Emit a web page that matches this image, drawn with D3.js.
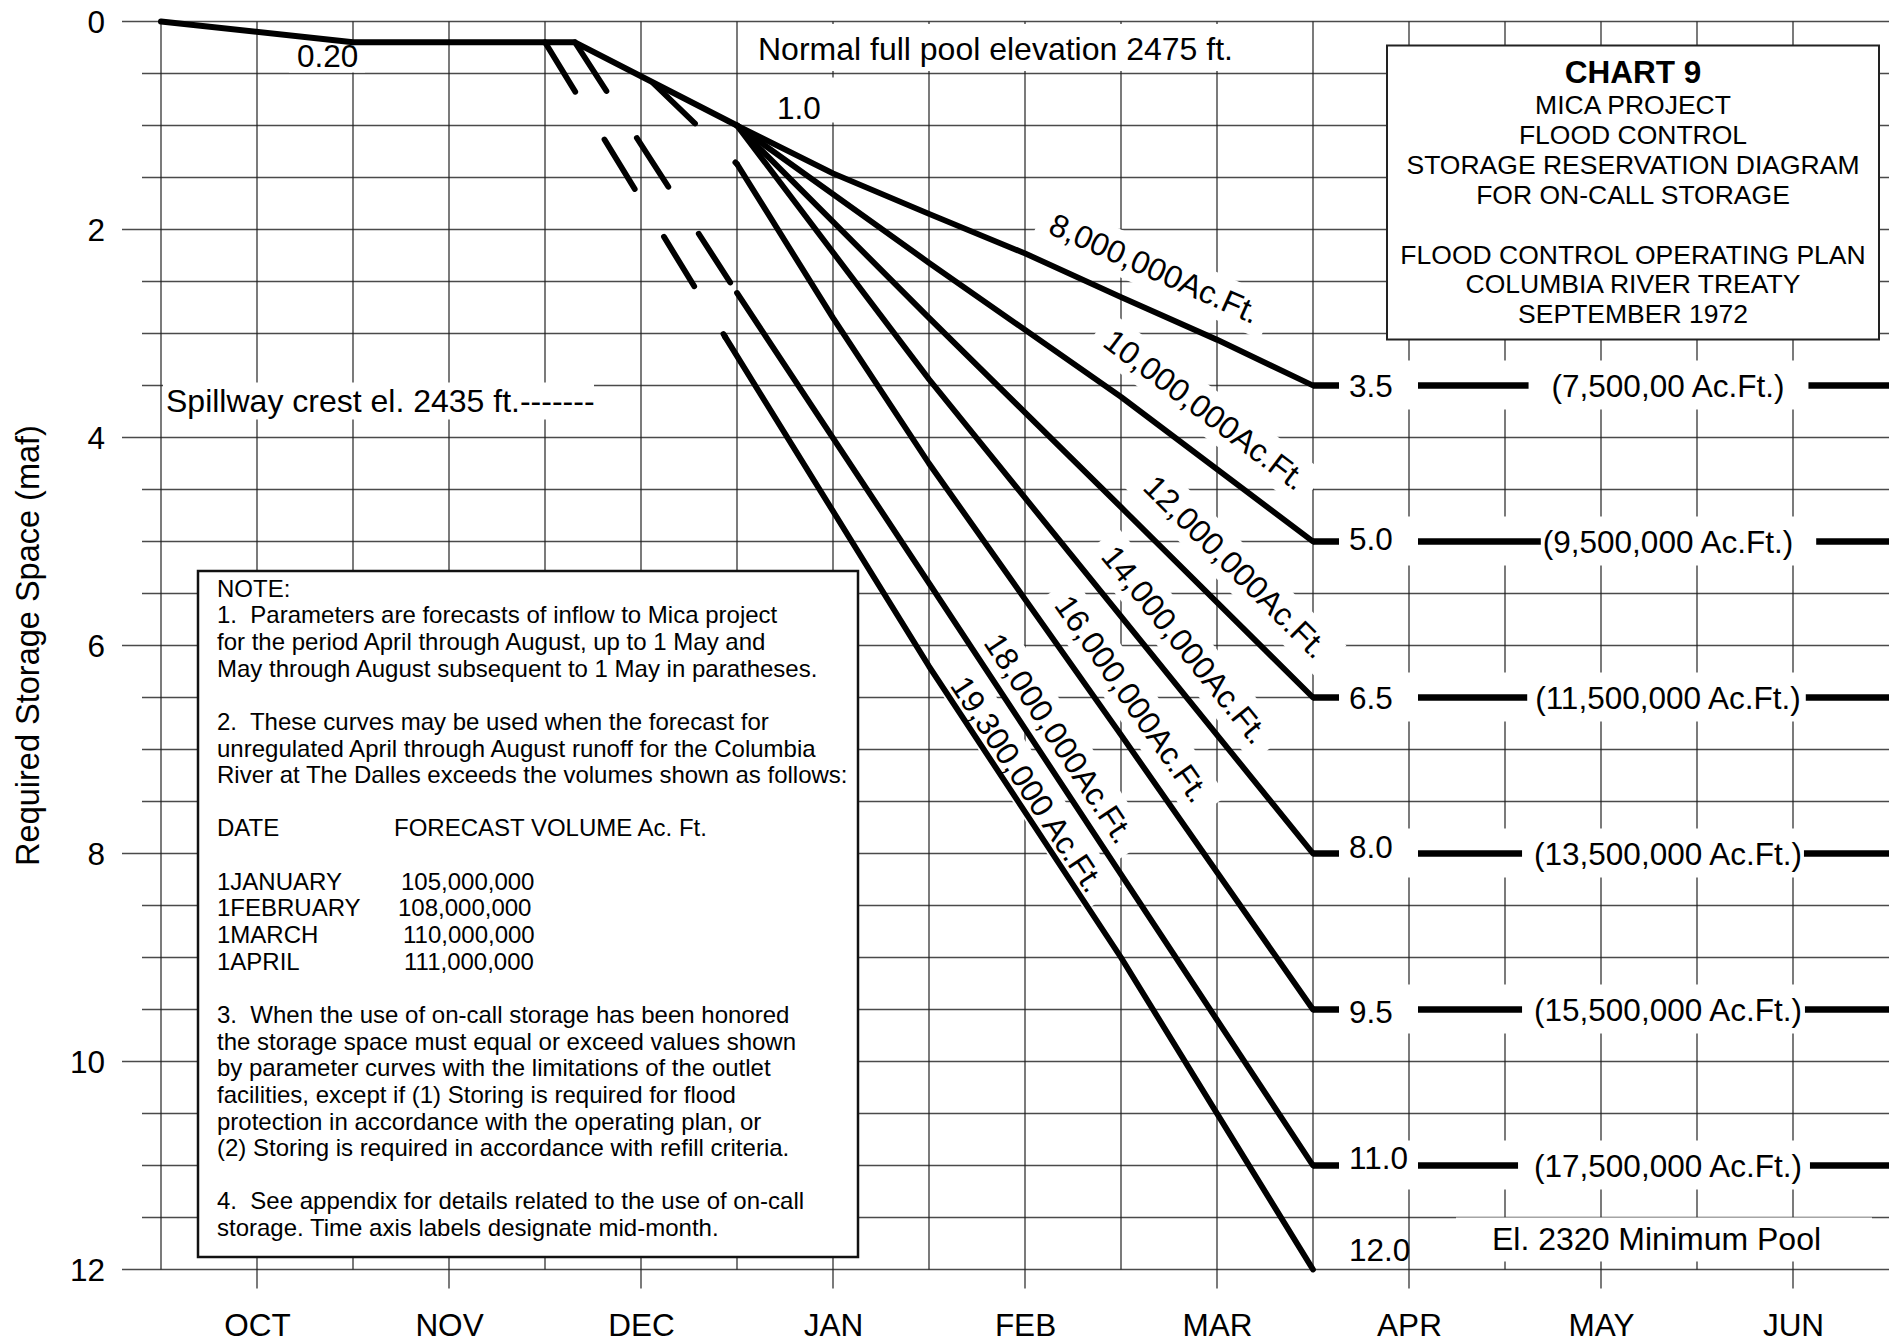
<!DOCTYPE html>
<html><head><meta charset="utf-8">
<script src="https://cdn.jsdelivr.net/npm/d3@7"></script>
<style>
html,body{margin:0;padding:0;background:#fff;}
svg{display:block;font-family:"Liberation Sans",Arial,Helvetica,sans-serif;}
text{white-space:pre;}
</style></head><body>
<svg id="chart" width="1889" height="1343"></svg>
<script>
// ---------------- data ----------------
// x = months after 1 October, y = required storage space (maf)
const months = ["OCT","NOV","DEC","JAN","FEB","MAR","APR","MAY","JUN"];
const yTicks = [0,2,4,6,8,10,12];
const poolLine = [[0,0],[1,0.2],[2.156,0.2],[3,1.0]];
const curve8   = [[3,1.0],[3.5,1.46],[4,1.85],[4.5,2.23],[5,2.65],[5.5,3.06],[6,3.5]];
const curve10  = [[3,1.0],[4,2.32],[5,3.61],[6,5.0]];
const curve12  = [[3,1.0],[4,2.85],[5,4.67],[6,6.5]];
const curve14  = [[3,1.0],[4,3.44],[5,5.72],[6,8.0]];
const curve16  = [[3,1.37],[3.5,2.85],[4,4.25],[5,6.86],[6,9.5]];
const curve18  = [[3,2.61],[4,5.4],[5,8.2],[6,11.0]];
const curve193 = [[2.9375,3.03],[4,6.2],[5,9.0],[6,12.0]];
const dash16   = [[2.564,0.594],[3,1.37]];
const dash18   = [[2.156,0.2],[3,2.61]];
const dash193  = [[2,0.2],[2.9375,3.03]];
const curveNames = ["8,000,000Ac.Ft.","10,000,000Ac.Ft.","12,000,000Ac.Ft.","14,000,000Ac.Ft.","16,000,000Ac.Ft.","18,000,000Ac.Ft.","19,300,000 Ac.Ft."];
const endLevels = [3.5,5.0,6.5,8.0,9.5,11.0,12.0];
const endLevelText = ["3.5","5.0","6.5","8.0","9.5","11.0","12.0"];
const mayVolumes = ["(7,500,00 Ac.Ft.)","(9,500,000 Ac.Ft.)","(11,500,000 Ac.Ft.)","(13,500,000 Ac.Ft.)","(15,500,000 Ac.Ft.)","(17,500,000 Ac.Ft.)"];
const titleLines = ["MICA PROJECT","FLOOD CONTROL","STORAGE RESERVATION DIAGRAM","FOR ON-CALL STORAGE","","FLOOD CONTROL OPERATING PLAN","COLUMBIA RIVER TREATY","SEPTEMBER 1972"];
const noteLines = [
 "NOTE:",
 "1.  Parameters are forecasts of inflow to Mica project",
 "for the period April through August, up to 1 May and",
 "May through August subsequent to 1 May in paratheses.",
 "",
 "2.  These curves may be used when the forecast for",
 "unregulated April through August runoff for the Columbia",
 "River at The Dalles exceeds the volumes shown as follows:",
 "",
 "DATE",
 "",
 "1JANUARY","1FEBRUARY","1MARCH","1APRIL",
 "",
 "3.  When the use of on-call storage has been honored",
 "the storage space must equal or exceed values shown",
 "by parameter curves with the limitations of the outlet",
 "facilities, except if (1) Storing is required for flood",
 "protection in accordance with the operating plan, or",
 "(2) Storing is required in accordance with refill criteria.",
 "",
 "4.  See appendix for details related to the use of on-call",
 "storage. Time axis labels designate mid-month."
];
const forecastHeader = "FORECAST VOLUME Ac. Ft.";
const forecastVolumes = ["105,000,000","108,000,000","110,000,000","111,000,000"];

// ---------------- layout ----------------
const W = 1889, H = 1343;
const svg = d3.select("#chart");
const x = d3.scaleLinear().domain([0,9]).range([161,1889]);
const y = d3.scaleLinear().domain([0,12]).range([21.5,1269.5]);
const FS = 32;

// grid
const gGrid = svg.append("g");
const hVals = d3.range(0,12.001,0.5);
gGrid.selectAll("line.h").data(hVals).join("line")
  .attr("x1", d => (d % 2 === 0) ? 122 : 142).attr("x2", W)
  .attr("y1", d => y(d)).attr("y2", d => y(d))
  .attr("stroke", "#4a4a4a").attr("stroke-width", 1.5);
const vVals = d3.range(0,8.501,0.5);
gGrid.selectAll("line.v").data(vVals).join("line")
  .attr("x1", d => x(d)).attr("x2", d => x(d))
  .attr("y1", y(0)).attr("y2", d => (d % 1 === 0.5) ? y(12) + 19 : y(12))
  .attr("stroke", "#222").attr("stroke-width", 1.2);

// axes labels
const yAxis = d3.axisLeft(y).tickValues(yTicks).tickSize(0).tickPadding(56);
const gy = svg.append("g").attr("transform", `translate(${x(0)},0)`).call(yAxis);
gy.select(".domain").remove();
gy.selectAll("text").attr("font-size", 31.5).attr("font-family","Liberation Sans, Arial").attr("fill","#000").attr("dy","0.36em");

const xAxis = d3.axisBottom(x).tickValues(months.map((m,i)=>i+0.5)).tickFormat((d,i)=>months[i]).tickSize(0).tickPadding(44);
const gx = svg.append("g").attr("transform", `translate(0,${y(12)})`).call(xAxis);
gx.select(".domain").remove();
gx.selectAll("text").attr("font-size", 31.5).attr("font-family","Liberation Sans, Arial").attr("fill","#000");

svg.append("text").attr("transform", `translate(27,${(y(0)+y(12))/2}) rotate(-90)`)
  .attr("text-anchor","middle").attr("dy","0.36em").attr("font-size",32.5)
  .text("Required Storage Space (maf)");

// white label boxes (break the grid)
function wbox(x0,y0,x1,y1){ svg.append("rect").attr("x",x0).attr("y",y0).attr("width",x1-x0).attr("height",y1-y0).attr("fill","#fff"); }
wbox(745, 24, 1300, 71);              // normal full pool
wbox(x(1)-64, y(0.2)+3, x(1)+12, y(0.5)-1); // 0.20
wbox(x(3)+33, y(0.5)+4, x(3.55), y(1)-3);   // 1.0
wbox(x(0)+2, y(3.5)-3, 594, y(3.5)+34);    // spillway

// right-hand rows: white band
endLevels.slice(0,6).forEach(v => wbox(x(6)+26, y(v)-25, 1812, y(v)+24));
wbox(1456, y(11.5), 1872, y(12)-8);

// title box
svg.append("rect").attr("x",1387).attr("y",45.5).attr("width",492).attr("height",294)
  .attr("fill","#fff").attr("stroke","#222").attr("stroke-width",2);
const tcx = 1387 + 246;
svg.append("text").attr("x",tcx).attr("y",82.7).attr("text-anchor","middle")
  .attr("font-size",31.5).attr("font-weight","bold").text("CHART 9");
titleLines.forEach((t,i) => {
  if (!t) return;
  svg.append("text").attr("x",tcx).attr("y",114 + i*29.9).attr("text-anchor","middle")
    .attr("font-size",26.5).text(t);
});

// note box
svg.append("rect").attr("x",198).attr("y",571).attr("width",660).attr("height",686)
  .attr("fill","#fff").attr("stroke","#111").attr("stroke-width",2.5);
noteLines.forEach((t,i) => {
  if (!t) return;
  svg.append("text").attr("x",217).attr("y",596.7 + i*26.64).attr("font-size",24).text(t);
});
svg.append("text").attr("x",394).attr("y",596.7 + 9*26.64).attr("font-size",24).text(forecastHeader);
const volX = [401,398,403,404];
forecastVolumes.forEach((t,i) => {
  svg.append("text").attr("x",volX[i]).attr("y",596.7 + (11+i)*26.64).attr("font-size",24).text(t);
});

// rotated curve labels: centres (month, maf)
const labelPos = [[5.175,2.37],[5.44,3.73],[5.60,5.24],[5.335,5.99],[5.06,6.51],[4.68,6.89],[4.515,7.33]];
const curves = [curve8,curve10,curve12,curve14,curve16,curve18,curve193];
function angleAt(c, m){
  let k = 0;
  for (let i=0;i<c.length-1;i++){ if (m >= c[i][0]) k = i; }
  const a = c[k], b = c[k+1];
  return Math.atan2(y(b[1])-y(a[1]), x(b[0])-x(a[0])) * 180/Math.PI;
}
curveNames.forEach((name,i) => {
  const g = svg.append("g")
    .attr("transform", `translate(${x(labelPos[i][0])},${y(labelPos[i][1])}) rotate(${angleAt(curves[i], labelPos[i][0])})`);
  const r = g.append("rect").attr("fill","#fff");
  const t = g.append("text").attr("text-anchor","middle").attr("dy","0.36em").attr("font-size",FS).text(name);
  const bb = t.node().getBBox();
  r.attr("x", bb.x-12).attr("y", bb.y-4).attr("width", bb.width+24).attr("height", bb.height+8);
});

// curves
const line = d3.line().x(d => x(d[0])).y(d => y(d[1]));
const gC = svg.append("g").attr("fill","none").attr("stroke","#000")
  .attr("stroke-linejoin","round").attr("stroke-linecap","round");
gC.append("path").attr("d", line(poolLine)).attr("stroke-width",6);
curves.forEach(c => gC.append("path").attr("d", line(c)).attr("stroke-width",5.8));
[dash16, dash18, dash193].forEach(c => gC.append("path").attr("d", line(c))
  .attr("stroke-width",5.8).attr("stroke-dasharray","58 56"));

// right-hand levels
const levelDy = [0,-3,0,-7,2,-8,-20];
const volPadL = [23,2,8,12,12,16];
const volPadR = [24,23,5,2,3,8];
endLevels.forEach((v,i) => {
  if (i < 6) {
    svg.append("line").attr("x1",x(6)).attr("x2",W).attr("y1",y(v)).attr("y2",y(v))
      .attr("stroke","#000").attr("stroke-width",6.5);
    wbox(x(6)+26, y(v)-8, x(6)+105, y(v)+8);
  }
  svg.append("text").attr("x",x(6)+36).attr("y",y(v)+levelDy[i]).attr("dy","0.36em")
    .attr("font-size",31.5).text(endLevelText[i]);
  if (i < 6) {
    const t = svg.append("text").attr("x",1668).attr("y",y(v)).attr("dy","0.36em")
      .attr("text-anchor","middle").attr("font-size",31.5).text(mayVolumes[i]);
    const bb = t.node().getBBox();
    svg.insert("rect", () => t.node()).attr("x",bb.x-volPadL[i]).attr("y",y(v)-8)
      .attr("width",bb.width+volPadL[i]+volPadR[i]).attr("height",16).attr("fill","#fff");
  }
});
svg.append("text").attr("x",1492).attr("y",1250).attr("font-size",32).text("El. 2320 Minimum Pool");

// annotations
svg.append("text").attr("x",758).attr("y",60).attr("font-size",FS).text("Normal full pool elevation 2475 ft.");
svg.append("text").attr("x",x(1)-56).attr("y",67).attr("font-size",31.5).text("0.20");
svg.append("text").attr("x",x(3)+40).attr("y",119).attr("font-size",31.5).text("1.0");
svg.append("text").attr("x",166).attr("y",412).attr("font-size",FS).text("Spillway crest el. 2435 ft.-------");
</script></body></html>
